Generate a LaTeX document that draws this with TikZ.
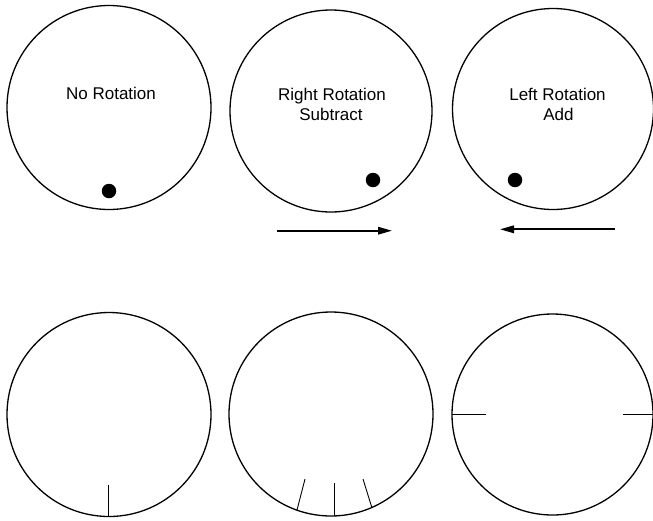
\documentclass[tikz,border=0pt]{standalone}
\usepackage{fontspec}
\setmainfont{Liberation Sans}
\usetikzlibrary{arrows.meta}
\begin{document}
\begin{tikzpicture}[x=1pt,y=-1pt,
  wheel/.style={circle,draw,line width=1.3pt,inner sep=0pt},
  dotmark/.style={circle,fill=black,inner sep=0pt,minimum size=14.5pt},
  lbl/.style={anchor=base,inner sep=0pt,font=\fontsize{17}{20}\selectfont},
  tick/.style={line width=0.9pt},
  motion/.style={line width=1.8pt,-{Triangle[length=14pt,width=7.5pt]}}]
\useasboundingbox (0,0) rectangle (653,520);
% top row
\node[wheel,minimum size=204pt] (c1) at (109,107.5) {};
\node[wheel,minimum size=202pt] (c2) at (331,111) {};
\node[wheel,minimum size=201pt] (c3) at (553,109) {};
\node[lbl] (t1) at (111,99.5) {No Rotation};
\node[lbl] (t2a) at (332,100.7) {Right Rotation};
\node[lbl] (t2b) at (331,120.7) {Subtract};
\node[lbl] (t3a) at (557.5,100.7) {Left Rotation};
\node[lbl] (t3b) at (558.5,120.7) {Add};
\node[dotmark] (d1) at (109,191) {};
\node[dotmark] (d2) at (373,180) {};
\node[dotmark] (d3) at (515,180) {};
% arrows
\coordinate (ra1) at (277,230.7);
\coordinate (ra2) at (392,230.7);
\coordinate (la1) at (615,229.3);
\coordinate (la2) at (500,229.3);
\draw[motion] (ra1) -- (ra2);
\draw[motion] (la1) -- (la2);
% bottom row
\node[wheel,minimum size=204pt] (c4) at (109,414.5) {};
\node[wheel,minimum size=204pt] (c5) at (331,414) {};
\node[wheel,minimum size=201pt] (c6) at (552.5,414.5) {};
\draw[tick] (108,485) -- (108,517);
\draw[tick] (334,483) -- (334,516);
\draw[tick] (305,479) -- (297,510);
\draw[tick] (363,479) -- (372,508);
\draw[tick] (452,414) -- (486,414);
\draw[tick] (623,414) -- (653,414);
\end{tikzpicture}
\end{document}
